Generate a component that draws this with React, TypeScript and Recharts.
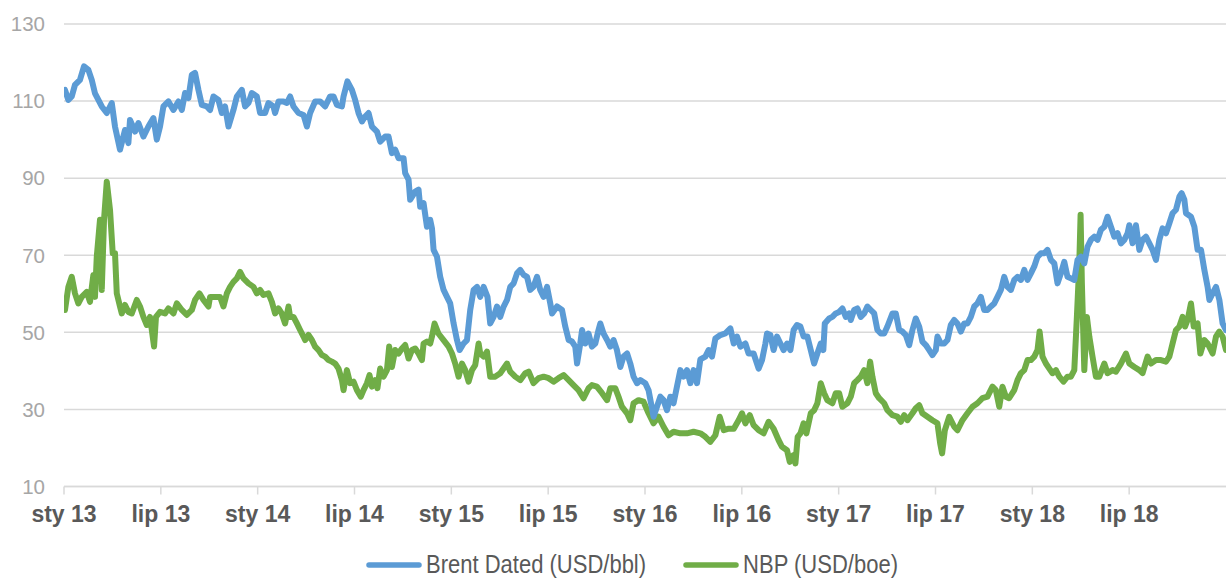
import { LineChart, Line, XAxis, YAxis, CartesianGrid, Legend } from "recharts";

// months since Jan 2013
const tickMonths = [0, 6, 12, 18, 24, 30, 36, 42, 48, 54, 60, 66];
const tickLabels = [
  "sty 13", "lip 13", "sty 14", "lip 14", "sty 15", "lip 15",
  "sty 16", "lip 16", "sty 17", "lip 17", "sty 18", "lip 18",
];
const yTicks = [10, 30, 50, 70, 90, 110, 130];

const brentMonths = [
  0.06, 0.27, 0.48, 0.68, 0.99, 1.24, 1.51, 1.72, 1.92, 2.13, 2.34, 2.65, 2.96, 3.16, 3.47, 3.78,
  3.99, 4.09, 4.4, 4.61, 4.92, 5.23, 5.54, 5.75, 5.95, 6.16, 6.47, 6.78, 7.09, 7.3, 7.5, 7.71,
  7.92, 8.12, 8.33, 8.54, 8.85, 9.05, 9.26, 9.57, 9.78, 9.98, 10.19, 10.5, 10.71, 11.02, 11.22, 11.43,
  11.64, 11.95, 12.15, 12.46, 12.67, 12.98, 13.08, 13.29, 13.6, 13.81, 14.01, 14.22, 14.53, 14.84, 15.05, 15.25,
  15.56, 15.87, 16.18, 16.49, 16.7, 16.91, 17.22, 17.32, 17.56, 17.84, 18.04, 18.25, 18.46, 18.66, 18.87, 19.08,
  19.39, 19.59, 19.9, 20.11, 20.32, 20.52, 20.73, 21.04, 21.14, 21.35, 21.45, 21.76, 21.97, 22.07, 22.28, 22.49,
  22.69, 22.8, 22.9, 23.11, 23.31, 23.52, 23.73, 23.93, 24.14, 24.35, 24.51, 24.76, 24.97, 25.17, 25.38, 25.59,
  25.79, 26.0, 26.24, 26.41, 26.62, 26.83, 27.03, 27.24, 27.45, 27.65, 27.86, 28.07, 28.27, 28.48, 28.69, 28.89,
  29.09, 29.31, 29.51, 29.72, 29.93, 30.13, 30.24, 30.55, 30.86, 31.06, 31.27, 31.48, 31.68, 31.79, 31.99, 32.1,
  32.3, 32.5, 32.71, 32.92, 33.12, 33.23, 33.43, 33.65, 33.85, 34.05, 34.26, 34.47, 34.67, 34.89, 35.09, 35.29,
  35.51, 35.71, 36.02, 36.22, 36.53, 36.74, 36.95, 37.15, 37.36, 37.57, 37.77, 37.98, 38.19, 38.39, 38.6, 38.81,
  39.01, 39.22, 39.43, 39.74, 39.94, 40.15, 40.36, 40.67, 40.98, 41.29, 41.5, 41.7, 41.91, 42.22, 42.42, 42.73,
  43.04, 43.25, 43.46, 43.56, 43.77, 43.97, 44.18, 44.39, 44.59, 44.8, 45.01, 45.21, 45.42, 45.63, 45.83, 46.06,
  46.27, 46.48, 46.68, 46.89, 47.05, 47.14, 47.41, 47.61, 47.82, 48.03, 48.23, 48.44, 48.65, 48.75, 48.96, 49.16,
  49.37, 49.58, 49.78, 49.99, 50.2, 50.4, 50.61, 50.82, 51.02, 51.33, 51.54, 51.75, 51.95, 52.16, 52.37, 52.57,
  52.78, 52.99, 53.19, 53.4, 53.61, 53.81, 54.02, 54.12, 54.33, 54.54, 54.74, 54.95, 55.16, 55.36, 55.57, 55.78,
  55.98, 56.19, 56.4, 56.6, 56.81, 57.02, 57.22, 57.43, 57.64, 57.84, 58.05, 58.26, 58.46, 58.67, 58.88, 59.08,
  59.29, 59.5, 59.7, 59.91, 60.12, 60.32, 60.53, 60.74, 60.94, 61.15, 61.36, 61.56, 61.77, 61.98, 62.18, 62.39,
  62.6, 62.8, 63.01, 63.22, 63.42, 63.63, 63.84, 64.04, 64.25, 64.46, 64.66, 64.87, 65.08, 65.28, 65.49, 65.7,
  65.9, 66.01, 66.21, 66.42, 66.63, 66.83, 67.04, 67.25, 67.45, 67.66, 67.87, 68.07, 68.28, 68.49, 68.69, 68.9,
  69.11, 69.25, 69.42, 69.52, 69.83, 70.04, 70.24, 70.45, 70.66, 70.86, 70.97, 71.17, 71.38, 71.59, 71.79, 72.0,
];
const brentValues = [
  112.9, 110.3, 111.2, 114.2, 115.5, 119, 118.1, 115.5, 112, 110.3, 108.6, 106.9, 109.5, 103.4, 97.4, 102.5,
  99.1, 105.1, 102.1, 104.3, 100.8, 103.4, 105.6, 100, 103.4, 108.6, 109.9, 107.7, 109.9, 107.7, 112.1, 110.8,
  116.8, 117.3, 112.9, 109, 108.6, 107.7, 111.2, 110.3, 106.9, 108.6, 103.4, 107.7, 111.2, 112.9, 108.6, 109.5,
  112.1, 111.2, 106.9, 106.9, 109.5, 108.6, 106.9, 109.9, 109.9, 109.5, 111.2, 108.6, 106.9, 106.4, 103.4, 106.9,
  109.9, 109.9, 108.6, 111.2, 111.2, 109, 108.6, 111.2, 115.1, 112.9, 110.3, 106.9, 104.7, 106, 106.9, 103.4,
  102.1, 99.5, 100.8, 100.8, 96.5, 97.4, 95.2, 95.2, 91.3, 89.6, 84.4, 86.5, 87, 82.6, 83.5, 77.4,
  79.2, 77, 71.4, 69.6, 64.4, 61, 59.2, 57.5, 52.3, 48, 45.4, 47.1, 48, 55.8, 61, 61.8,
  59.2, 61.8, 59.2, 52.3, 54, 56.7, 54, 56.7, 58.4, 61.8, 62.7, 65.3, 66.2, 64.9, 64.4, 61,
  61.8, 64.4, 61, 59.2, 61.8, 57.5, 54.9, 56.7, 55.8, 51.5, 48, 47.6, 46.3, 41.9, 47.1, 50.6,
  47.1, 49.7, 46.3, 47.1, 50.6, 52.3, 49.7, 48, 46.3, 48, 45.4, 41, 43.7, 44.5, 41.9, 38.5,
  36.8, 37.6, 36.8, 35, 28.1, 30.7, 33.3, 32.4, 29.8, 33.3, 31.6, 35.9, 40.2, 38.5, 40.2, 36.8,
  40.2, 36.8, 43, 43.7, 45.4, 43.7, 48.4, 49.3, 49.7, 51, 47.1, 48.9, 46.3, 47.1, 44.5, 44.5,
  40.6, 42.8, 47.1, 49.7, 49.3, 45.4, 48.9, 47.1, 45.4, 47.1, 45.4, 50.6, 51.9, 51.5, 48.9, 48.9,
  45.4, 41.9, 44.5, 47.1, 45.4, 52.3, 53.6, 54, 54.9, 55.3, 56.2, 54, 54.9, 53.2, 55.8, 56.2,
  54, 54.9, 56.7, 55.8, 54.9, 50.6, 49.7, 49.7, 51.5, 54.9, 54.9, 50.6, 50.2, 49.3, 46.7, 50.6,
  53.6, 51.5, 47.6, 46.7, 45.4, 44.1, 45.4, 48.9, 47.1, 47.1, 48, 51.9, 53.2, 52.3, 50.2, 52.3,
  52.3, 54, 56.7, 57.5, 59.2, 55.8, 55.8, 56.7, 57.5, 59.2, 61, 64.4, 61.8, 61, 63.6, 64.4,
  63.6, 66.2, 63.6, 65.3, 67.1, 69.6, 70.5, 70.5, 71.4, 68.8, 67.9, 62.7, 65.3, 68.3, 64.4, 64,
  63.6, 68.8, 69.6, 67.9, 72.2, 74, 74.8, 74, 76.6, 77.4, 80, 77.4, 74.8, 75.7, 73.1, 74,
  75.7, 77.8, 73.1, 77.8, 71.4, 74, 74.8, 73.1, 71.4, 68.8, 74, 77, 75.7, 78.3, 80.9, 81.8,
  85.2, 86.1, 84.4, 80.9, 80, 77.4, 71.4, 71.4, 66.2, 61.8, 58.4, 60.1, 61.8, 58.4, 52.3, 50.6,
];

const nbpMonths = [
  0.06, 0.27, 0.48, 0.68, 0.89, 1.1, 1.41, 1.61, 1.82, 1.92, 2.03, 2.23, 2.34, 2.48, 2.65, 2.85,
  3.02, 3.16, 3.27, 3.47, 3.58, 3.78, 3.99, 4.2, 4.51, 4.71, 4.92, 5.13, 5.33, 5.58, 5.7, 5.95,
  6.26, 6.47, 6.78, 6.99, 7.3, 7.61, 7.92, 8.12, 8.39, 8.64, 8.95, 9.05, 9.36, 9.67, 9.88, 10.09,
  10.29, 10.5, 10.71, 10.91, 11.12, 11.43, 11.74, 11.95, 12.15, 12.36, 12.67, 12.88, 13.08, 13.29, 13.49, 13.7,
  13.91, 14.01, 14.22, 14.43, 14.63, 14.84, 14.94, 15.15, 15.36, 15.56, 15.77, 15.98, 16.18, 16.39, 16.6, 16.8,
  17.01, 17.22, 17.32, 17.53, 17.73, 17.94, 18.15, 18.39, 18.56, 18.77, 18.93, 19.08, 19.28, 19.42, 19.59, 19.8,
  20.01, 20.15, 20.32, 20.52, 20.73, 20.94, 21.14, 21.35, 21.56, 21.76, 21.97, 22.18, 22.28, 22.49, 22.69, 22.8,
  22.96, 23.2, 23.52, 23.83, 24.04, 24.24, 24.45, 24.66, 24.86, 25.07, 25.28, 25.48, 25.69, 25.79, 26.0, 26.21,
  26.41, 26.72, 27.03, 27.45, 27.65, 27.96, 28.27, 28.58, 28.79, 29.09, 29.41, 29.72, 30.03, 30.33, 30.64, 30.96,
  31.27, 31.57, 31.88, 32.19, 32.5, 32.71, 33.02, 33.34, 33.65, 33.85, 34.16, 34.36, 34.57, 34.89, 35.09, 35.29,
  35.6, 35.91, 36.22, 36.53, 36.84, 37.15, 37.46, 37.77, 38.19, 38.6, 39.01, 39.43, 39.74, 40.05, 40.36, 40.63,
  40.88, 41.19, 41.5, 41.8, 42.01, 42.22, 42.49, 42.73, 43.04, 43.35, 43.66, 43.97, 44.28, 44.49, 44.8, 44.97,
  45.18, 45.32, 45.46, 45.63, 45.83, 46.0, 46.27, 46.48, 46.68, 46.89, 47.1, 47.3, 47.61, 47.82, 48.03, 48.23,
  48.54, 48.75, 48.96, 49.16, 49.37, 49.58, 49.78, 49.95, 50.09, 50.3, 50.51, 50.82, 51.02, 51.33, 51.64, 51.85,
  52.06, 52.26, 52.57, 52.78, 52.99, 53.19, 53.5, 53.81, 54.12, 54.29, 54.41, 54.58, 54.85, 55.16, 55.36, 55.67,
  55.98, 56.29, 56.6, 56.91, 57.22, 57.53, 57.74, 57.95, 58.15, 58.36, 58.56, 58.88, 59.08, 59.29, 59.5, 59.7,
  59.91, 60.12, 60.32, 60.45, 60.63, 60.84, 61.05, 61.25, 61.46, 61.67, 61.93, 62.18, 62.39, 62.6, 62.76, 62.91,
  62.99, 63.07, 63.22, 63.38, 63.53, 63.73, 63.94, 64.15, 64.46, 64.66, 64.97, 65.18, 65.49, 65.8, 66.01, 66.32,
  66.63, 66.83, 67.14, 67.35, 67.66, 67.97, 68.28, 68.49, 68.69, 68.9, 69.11, 69.31, 69.46, 69.62, 69.83, 70.0,
  70.24, 70.41, 70.66, 70.86, 71.17, 71.38, 71.58, 71.79, 72.0,
];
const nbpValues = [
  55.8, 61.8, 64.4, 60.1, 57.5, 59.2, 60.5, 57.9, 64.9, 59.2, 69.6, 79.2, 61, 79.2, 89.1, 81.8,
  70.5, 70.5, 60.1, 56.7, 54.9, 57.1, 55.3, 54.9, 58.4, 56.7, 54, 51.9, 54, 46.3, 54, 55.3,
  54.9, 56.2, 54.9, 57.5, 55.8, 54.5, 55.8, 58.4, 60.1, 58.4, 56.7, 59.2, 59.2, 59.2, 56.7, 60.1,
  61.8, 63.1, 64, 65.7, 64, 62.7, 61.8, 60.1, 61, 59.7, 60.1, 57.9, 54.9, 56.2, 54.9, 52.3,
  56.7, 54, 54, 52.3, 50.6, 48.9, 48, 49.3, 48, 46.3, 45.4, 44.1, 43.7, 42.8, 42.4, 41.9,
  40.6, 37.6, 35, 40.2, 36.8, 37.2, 35, 33.3, 35, 36.8, 38.9, 35.9, 37.6, 35.5, 40.6, 38.5,
  40.2, 46.3, 41, 45.4, 44.5, 45.8, 46.7, 43.2, 45.4, 45.8, 44.5, 42.8, 47.1, 47.6, 47.1, 48.9,
  52.3, 49.7, 48, 46.3, 44.5, 41.9, 38.5, 41.9, 40.2, 37.2, 40.2, 41.5, 47.1, 44.5, 43.7, 45,
  38.5, 38.5, 39.4, 41.9, 39.8, 38.5, 37.6, 39.4, 39.8, 36.8, 38.1, 38.5, 38.1, 37.2, 38.1, 38.9,
  37.6, 36.3, 35, 32.9, 35.5, 36.3, 35.9, 34.2, 32.4, 35.5, 35.5, 33.3, 30.7, 29, 27.2, 31.6,
  32.4, 32, 29, 26.4, 28.1, 25.5, 23.3, 24.2, 23.8, 23.8, 24.2, 23.8, 22.9, 21.6, 23.3, 28.1,
  24.6, 25, 25, 27.2, 29, 26.4, 28.5, 25.9, 24.6, 23.8, 26.8, 25, 22, 20.3, 19.4, 16.4,
  18.1, 16, 22.9, 23.8, 26.4, 23.8, 29, 29.8, 31.6, 36.8, 34.2, 32.4, 31.6, 34.2, 34.2, 30.7,
  31.6, 33.3, 36.8, 37.6, 38.5, 40.2, 36.8, 42.4, 38.5, 34.2, 32.9, 31.6, 29.8, 28.5, 28.1, 26.8,
  28.5, 27.2, 29, 30.3, 31.1, 29, 28.1, 27.2, 26.4, 21.2, 18.6, 24.6, 28.1, 25.5, 24.6, 27.2,
  29, 30.7, 31.6, 32.9, 33.3, 35.9, 35, 30.7, 35.9, 33.3, 32.9, 35, 37.6, 39.4, 40.2, 42.8,
  42.8, 43.7, 45.4, 50.2, 43.7, 41.9, 40.6, 39.4, 40.2, 38.5, 37.2, 38.5, 38.5, 40.2, 54, 67.9,
  80.5, 62.7, 40.2, 54, 48.9, 43.7, 38.5, 38.5, 41.9, 39.4, 40.2, 39.8, 41.9, 44.5, 41.9, 41,
  40.2, 39.4, 43.7, 41.9, 42.8, 42.8, 42.4, 43.7, 47.1, 50.6, 51.5, 54, 51.5, 53.2, 57.5, 51.5,
  52.3, 44.5, 48, 47.1, 44.5, 48.9, 50.2, 48.9, 45.4,
];

const brentData = brentMonths.map((m, i) => ({ m, v: brentValues[i] }));
const nbpData = nbpMonths.map((m, i) => ({ m, v: nbpValues[i] }));

const BLUE = "#5B9BD5";
const GREEN = "#70AD47";

const legendItems = [
  { name: "Brent Dated (USD/bbl)", color: BLUE },
  { name: "NBP (USD/boe)", color: GREEN },
];

const renderLegend = () => (
  <div
    style={{
      display: "flex",
      alignItems: "center",
      height: 40,
      paddingTop: 12,
      paddingLeft: 366,
      boxSizing: "border-box",
    }}
  >
    {legendItems.map((item, i) => (
      <span
        key={item.name}
        style={{ display: "flex", alignItems: "center", marginRight: i === 0 ? 37 : 0 }}
      >
        <svg width={56} height={8}>
          <line x1={3} y1={4} x2={53} y2={4} stroke={item.color} strokeWidth={5.5} strokeLinecap="round" />
        </svg>
        <span
          style={{
            display: "inline-block",
            marginLeft: 4,
            fontSize: 22,
            color: "#595959",
            fontFamily: "'Liberation Sans', Arial, sans-serif",
            transform: "scaleY(1.2)",
            lineHeight: "24px",
          }}
        >
          {item.name}
        </span>
      </span>
    ))}
  </div>
);

export default function App() {
  return (
    <div style={{ width: 1227, height: 579, background: "#fff" }}>
      <style>{`body { margin: 0; }`}</style>
      <LineChart width={1227} height={579} margin={{ top: 24, right: 1, bottom: 0, left: 0 }}>
        <CartesianGrid vertical={false} stroke="#d9d9d9" strokeWidth={1.5} />
        <XAxis
          type="number"
          dataKey="m"
          domain={[0, 72]}
          ticks={tickMonths}
          interval={0}
          allowDataOverflow
          tickFormatter={(v) => tickLabels[tickMonths.indexOf(v)] ?? ""}
          height={52.5}
          tickSize={8}
          tickMargin={11}
          stroke="#d9d9d9"
          strokeWidth={1.5}
          tick={{
            fontSize: 23,
            fontWeight: 700,
            fill: "#595959",
            fontFamily: "'Liberation Sans', Arial, sans-serif",
          }}
        />
        <YAxis
          type="number"
          domain={[10, 130]}
          ticks={yTicks}
          width={64}
          axisLine={false}
          tickLine={false}
          tickSize={0}
          tickMargin={19}
          tick={{ fontSize: 20.5, fill: "#a6a6a6", fontFamily: "'Liberation Sans', Arial, sans-serif" }}
        />
        <Legend verticalAlign="bottom" content={renderLegend} />
        <Line
          data={nbpData}
          dataKey="v"
          name="NBP (USD/boe)"
          stroke={GREEN}
          strokeWidth={6}
          strokeLinejoin="round"
          strokeLinecap="round"
          dot={false}
          isAnimationActive={false}
        />
        <Line
          data={brentData}
          dataKey="v"
          name="Brent Dated (USD/bbl)"
          stroke={BLUE}
          strokeWidth={6}
          strokeLinejoin="round"
          strokeLinecap="round"
          dot={false}
          isAnimationActive={false}
        />
      </LineChart>
    </div>
  );
}
